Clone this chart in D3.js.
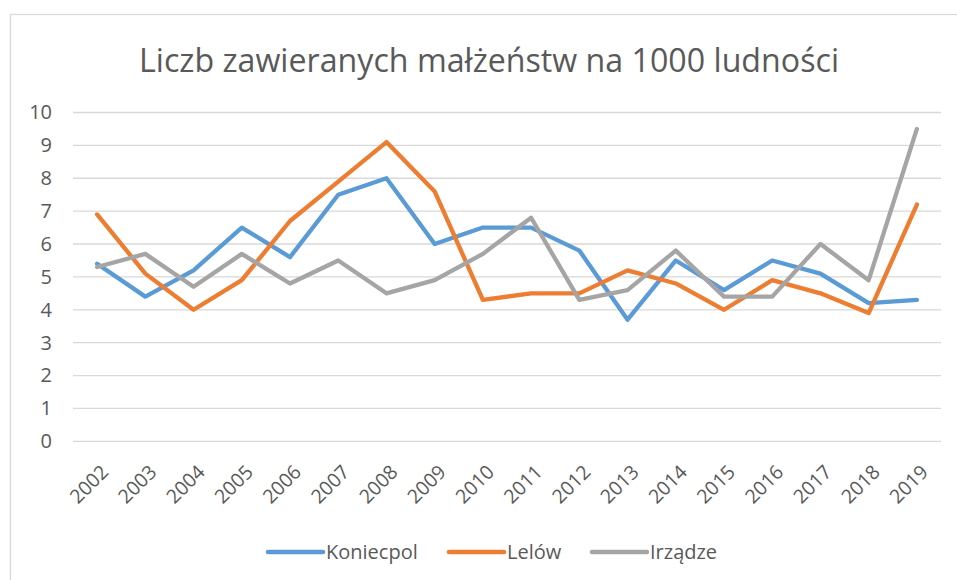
<!DOCTYPE html>
<html>
<head>
<meta charset="utf-8">
<script src="https://cdn.jsdelivr.net/npm/d3@7"></script>
<style>
  html, body { margin: 0; padding: 0; background: #fff; }
  svg { display: block; }
  text { font-family: "Open Sans", "Noto Sans", sans-serif; fill: #595959; }
</style>
</head>
<body>
<svg id="chart" width="957" height="580"></svg>
<script>
// Marriages per 1000 inhabitants, by year and municipality
const years = ["2002","2003","2004","2005","2006","2007","2008","2009","2010",
               "2011","2012","2013","2014","2015","2016","2017","2018","2019"];
const koniecpol = [5.4, 4.4, 5.2, 6.5, 5.6, 7.5, 8.0, 6.0, 6.5, 6.5, 5.8, 3.7, 5.5, 4.6, 5.5, 5.1, 4.2, 4.3];
const lelow     = [6.9, 5.1, 4.0, 4.9, 6.7, 7.9, 9.1, 7.6, 4.3, 4.5, 4.5, 5.2, 4.8, 4.0, 4.9, 4.5, 3.9, 7.2];
const irzadze   = [5.3, 5.7, 4.7, 5.7, 4.8, 5.5, 4.5, 4.9, 5.7, 6.8, 4.3, 4.6, 5.8, 4.4, 4.4, 6.0, 4.9, 9.5];
const yTicks = [0, 1, 2, 3, 4, 5, 6, 7, 8, 9, 10];
const seriesNames = ["Koniecpol", "Lelów", "Irządze"];
const seriesColors = ["#5B9BD5", "#ED7D31", "#A5A5A5"];
const title = "Liczb zawieranych małżeństw na 1000 ludności";

const series = [koniecpol, lelow, irzadze].map((values, i) => ({
  name: seriesNames[i], color: seriesColors[i], values
}));

const svg = d3.select("#chart");
const plot = { left: 73, right: 941, top: 112.5, bottom: 441.3 };

// Chart frame
svg.append("rect")
  .attr("x", 10.5).attr("y", 14.5)
  .attr("width", 960).attr("height", 600)
  .attr("fill", "#fff").attr("stroke", "#d9d9d9").attr("stroke-width", 1.3);

// Title
svg.append("text")
  .attr("x", 489).attr("y", 72)
  .attr("text-anchor", "middle")
  .attr("textLength", 700)
  .attr("lengthAdjust", "spacingAndGlyphs")
  .style("font-size", "32px")
  .text(title);

const x = d3.scalePoint().domain(years).range([plot.left, plot.right]).padding(0.5);
const y = d3.scaleLinear().domain([0, 10]).range([plot.bottom, plot.top]);

// Horizontal gridlines
svg.append("g")
  .selectAll("line").data(yTicks).join("line")
  .attr("x1", plot.left).attr("x2", plot.right)
  .attr("y1", d => y(d)).attr("y2", d => y(d))
  .attr("stroke", "#d9d9d9").attr("stroke-width", 1.3);

// Y axis labels
const yAxis = svg.append("g")
  .attr("transform", `translate(${plot.left - 21},0)`)
  .call(d3.axisLeft(y).tickValues(yTicks).tickSize(0).tickPadding(0));
yAxis.select(".domain").remove();
yAxis.selectAll("text")
  .style("font-size", "20px")
  .style("font-family", "\"Open Sans\", sans-serif")
  .attr("fill", "#595959");

// X axis labels, rotated
const xAxis = svg.append("g")
  .attr("transform", `translate(0,${plot.bottom})`)
  .call(d3.axisBottom(x).tickSize(0).tickPadding(0));
xAxis.select(".domain").remove();
xAxis.selectAll("text")
  .style("font-size", "19.5px")
  .style("font-family", "\"Open Sans\", sans-serif")
  .attr("fill", "#595959")
  .attr("text-anchor", "end")
  .attr("dy", null)
  .attr("transform", "translate(12,32) rotate(-45)");

// Series lines
const line = d3.line()
  .x((d, i) => x(years[i]))
  .y(d => y(d));

svg.append("g")
  .selectAll("path").data(series).join("path")
  .attr("d", d => line(d.values))
  .attr("fill", "none")
  .attr("stroke", d => d.color)
  .attr("stroke-width", 4.3)
  .attr("stroke-linejoin", "round")
  .attr("stroke-linecap", "round");

// Legend
const legendX = [268, 449, 592];
const legend = svg.append("g")
  .selectAll("g").data(series).join("g")
  .attr("transform", (d, i) => `translate(${legendX[i]},552)`);
legend.append("line")
  .attr("x1", 0).attr("x2", 55)
  .attr("stroke", d => d.color)
  .attr("stroke-width", 4.5)
  .attr("stroke-linecap", "round");
legend.append("text")
  .attr("x", 58).attr("y", 7)
  .style("font-size", "20px")
  .text(d => d.name);
</script>
</body>
</html>
